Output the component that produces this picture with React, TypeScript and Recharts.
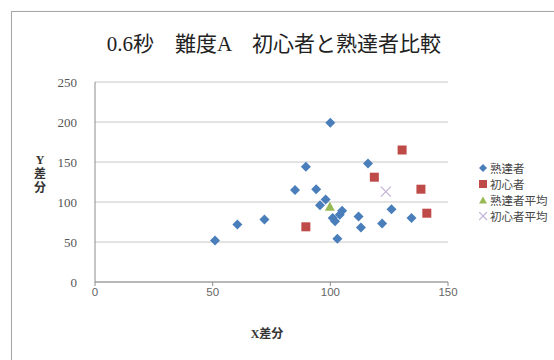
import React from "react";
import {
  ScatterChart,
  Scatter,
  XAxis,
  YAxis,
  CartesianGrid,
} from "recharts";

interface Pt {
  x: number;
  y: number;
}

// 熟達者
const expertX = [51, 60.5, 72, 100, 89.6, 85, 94, 98, 95.6, 101, 102, 104, 105, 103, 112, 113, 116, 122, 126, 134.5];
const expertY = [52, 72, 78, 199, 144, 115, 116, 103, 96, 80, 76, 84, 89, 54, 82, 68, 148, 73, 91, 80];
// 初心者
const noviceX = [89.6, 118.7, 130.5, 138.5, 141];
const noviceY = [69, 131, 165, 116, 86];
// 平均
const expertAvg: Pt[] = [{ x: 99.8, y: 94 }];
const noviceAvg: Pt[] = [{ x: 123.6, y: 113 }];

const xTicks = [0, 50, 100, 150];
const yTicks = [0, 50, 100, 150, 200, 250];

const toPts = (xs: number[], ys: number[]): Pt[] => xs.map((x, i) => ({ x, y: ys[i] }));

const BLUE = "#4a7ebb";
const RED = "#be4b48";
const GREEN = "#98b954";
const LILAC = "#c3b3d8";

const Diamond = (p: any) => (
  <polygon
    points={`${p.cx},${p.cy - 5} ${p.cx + 5},${p.cy} ${p.cx},${p.cy + 5} ${p.cx - 5},${p.cy}`}
    fill={BLUE}
  />
);
const Square = (p: any) => <rect x={p.cx - 4.5} y={p.cy - 4.5} width={9} height={9} fill={RED} />;
const Tri = (p: any) => (
  <polygon
    points={`${p.cx},${p.cy - 5} ${p.cx + 5},${p.cy + 4} ${p.cx - 5},${p.cy + 4}`}
    fill={GREEN}
  />
);
const Cross = (p: any) => (
  <g stroke={LILAC} strokeWidth={1.3}>
    <line x1={p.cx - 5} y1={p.cy - 5} x2={p.cx + 5} y2={p.cy + 5} />
    <line x1={p.cx - 5} y1={p.cy + 5} x2={p.cx + 5} y2={p.cy - 5} />
  </g>
);

const legendItems = [
  { name: "熟達者", icon: <polygon points="4,0 8,4 4,8 0,4" fill={BLUE} /> },
  { name: "初心者", icon: <rect x={0} y={0} width={8} height={8} fill={RED} /> },
  { name: "熟達者平均", icon: <polygon points="4,0.5 8,7.5 0,7.5" fill={GREEN} /> },
  {
    name: "初心者平均",
    icon: (
      <g stroke={LILAC} strokeWidth={1.2}>
        <line x1={0} y1={0} x2={8} y2={8} />
        <line x1={0} y1={8} x2={8} y2={0} />
      </g>
    ),
  },
];

const serif = "'Liberation Serif', 'Noto Sans CJK JP', serif";
const sans = "'Liberation Sans', 'Noto Sans CJK JP', sans-serif";

export default function App() {
  return (
    <div
      style={{
        position: "absolute",
        left: 0,
        top: 0,
        width: 554,
        height: 360,
        overflow: "hidden",
        background: "#fff",
      }}
    >
      <div
        style={{
          position: "absolute",
          left: 11,
          top: 11,
          width: 600,
          height: 400,
          border: "1px solid #a6a6a6",
          boxShadow: "1px 1px 2px #ccc",
        }}
      />
      <div
        style={{
          position: "absolute",
          left: 0,
          top: 27,
          width: 548,
          textAlign: "center",
          fontFamily: serif,
          fontSize: 21,
          color: "#222",
        }}
      >
        0.6秒　難度A　初心者と熟達者比較
      </div>
      <div
        style={{
          position: "absolute",
          left: 33,
          top: 153,
          width: 14,
          textAlign: "center",
          fontFamily: serif,
          fontWeight: "bold",
          fontSize: 12,
          lineHeight: "14px",
          color: "#333",
        }}
      >
        Y<br />差<br />分
      </div>
      <div
        style={{
          position: "absolute",
          left: 237,
          top: 324,
          width: 60,
          textAlign: "center",
          fontFamily: serif,
          fontWeight: "bold",
          fontSize: 12,
          color: "#333",
        }}
      >
        X差分
      </div>
      <div style={{ position: "absolute", left: 0, top: 0 }}>
        <ScatterChart
          width={554}
          height={360}
          margin={{ top: 82, right: 106, bottom: 58, left: 35 }}
        >
          <CartesianGrid vertical={false} stroke="#c6c6c6" />
          <XAxis
            type="number"
            dataKey="x"
            domain={[0, 150]}
            ticks={xTicks}
            height={20}
            axisLine={{ stroke: "#8c8c8c" }}
            tickLine={{ stroke: "#8c8c8c" }}
            tickSize={4}
            tick={{ fill: "#666", fontSize: 11.5, fontFamily: sans }}
          />
          <YAxis
            type="number"
            dataKey="y"
            domain={[0, 250]}
            ticks={yTicks}
            width={60}
            axisLine={{ stroke: "#8c8c8c" }}
            tickLine={false}
            tickMargin={12}
            tick={{ fill: "#555", fontSize: 13, fontFamily: serif }}
          />
          <Scatter data={toPts(expertX, expertY)} shape={Diamond} isAnimationActive={false} />
          <Scatter data={toPts(noviceX, noviceY)} shape={Square} isAnimationActive={false} />
          <Scatter data={expertAvg} shape={Tri} isAnimationActive={false} />
          <Scatter data={noviceAvg} shape={Cross} isAnimationActive={false} />
        </ScatterChart>
      </div>
      <div style={{ position: "absolute", left: 479, top: 160 }}>
        {legendItems.map((it) => (
          <div
            key={it.name}
            style={{
              display: "flex",
              alignItems: "center",
              height: 16,
              fontFamily: sans,
              fontSize: 11.5,
              color: "#444",
              whiteSpace: "nowrap",
            }}
          >
            <svg width={9} height={9} style={{ marginRight: 2 }}>
              {it.icon}
            </svg>
            {it.name}
          </div>
        ))}
      </div>
    </div>
  );
}
